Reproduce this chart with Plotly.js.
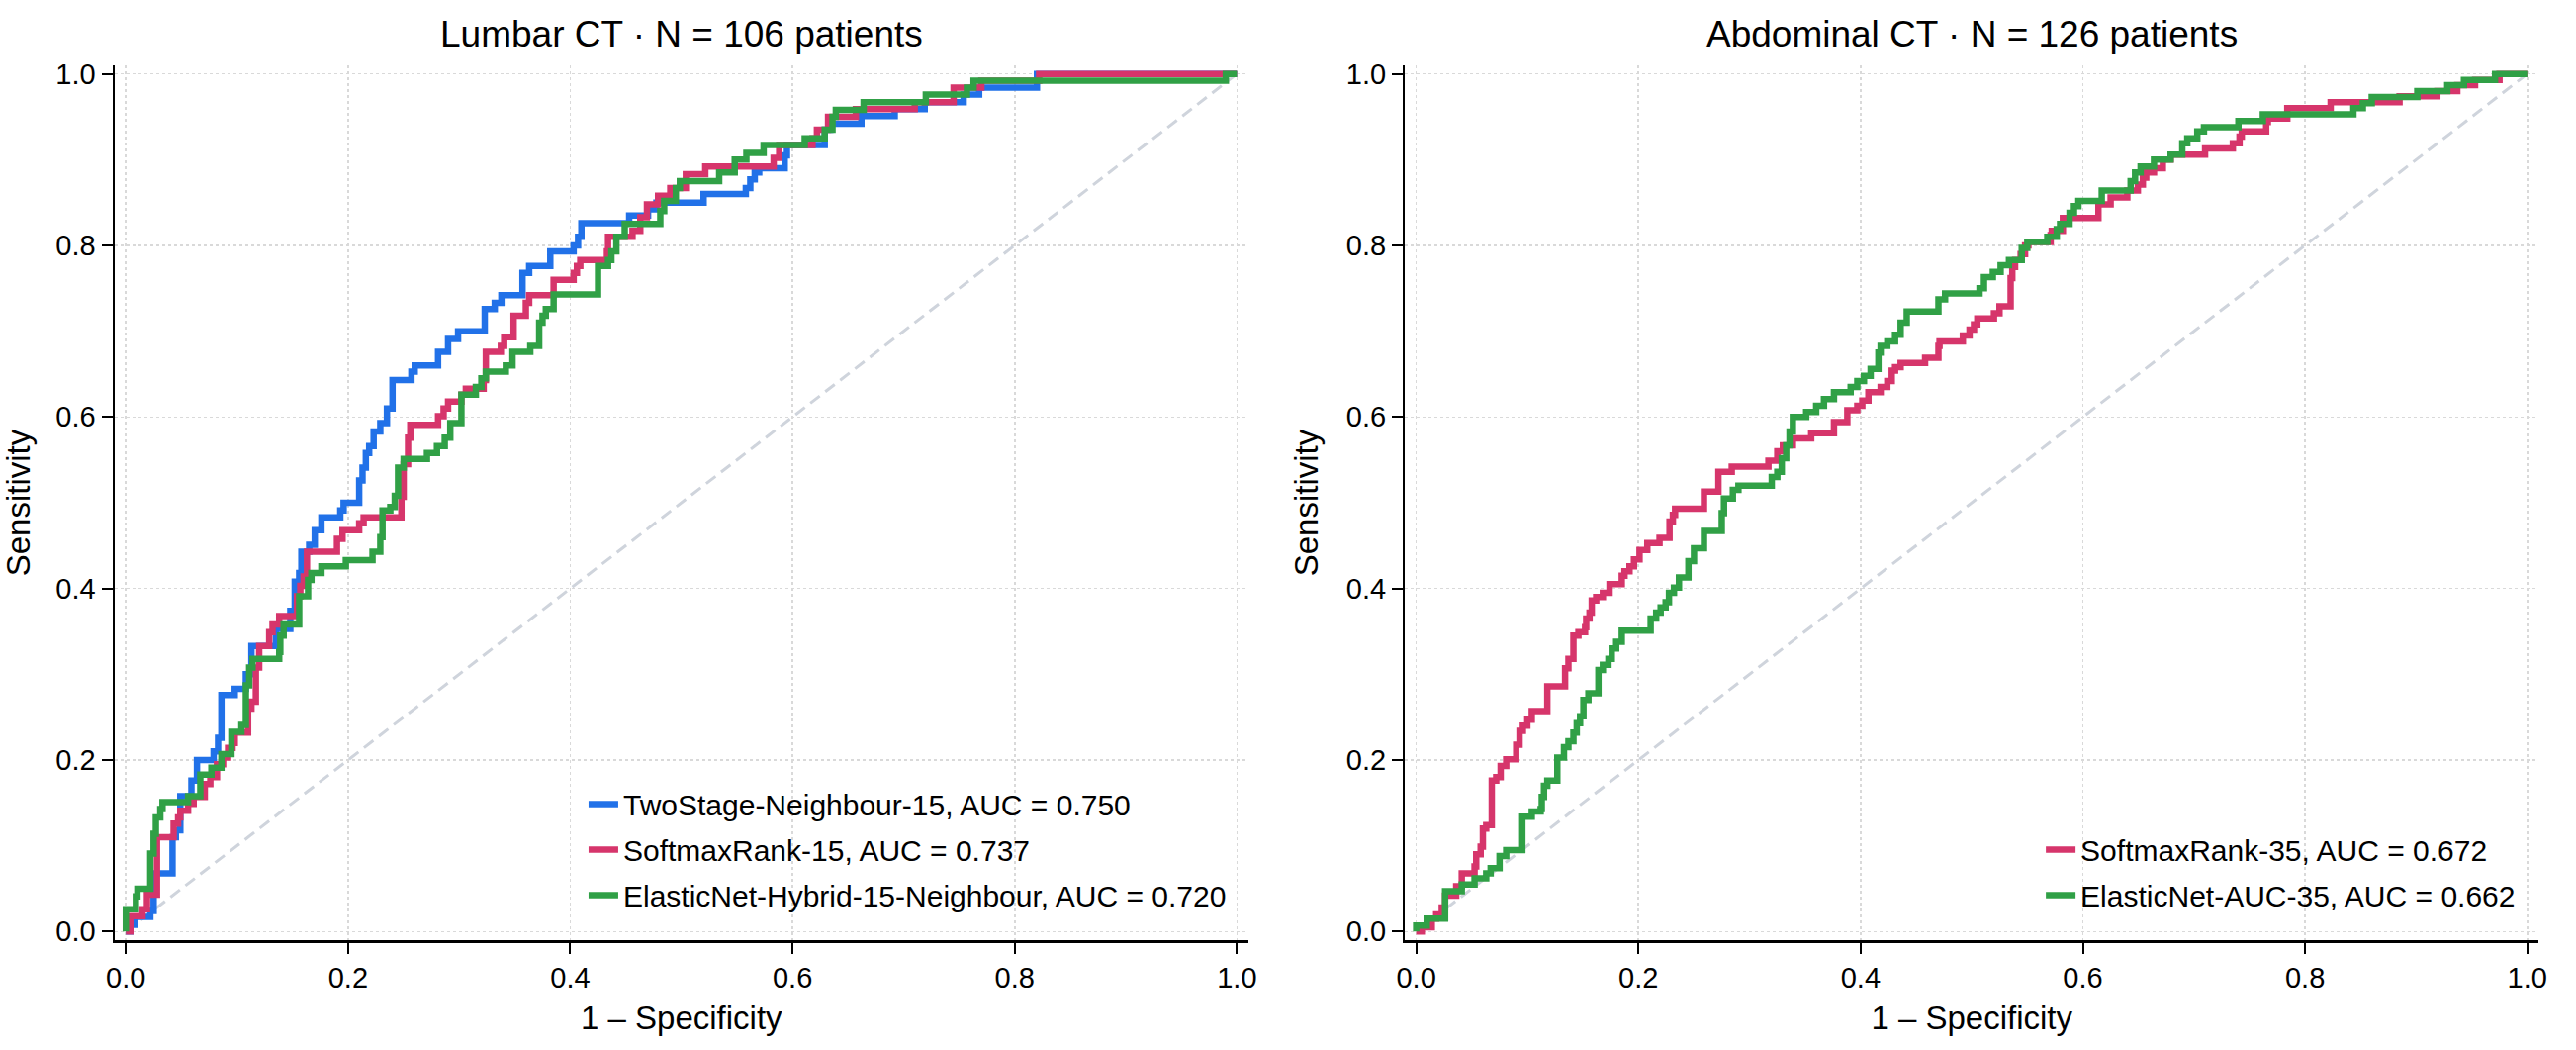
<!DOCTYPE html>
<html>
<head>
<meta charset="utf-8">
<script src="https://cdn.plot.ly/plotly-3.0.1.min.js"></script>
<style>
  html, body { margin: 0; padding: 0; background: #fff; }
  #chart { width: 2604px; height: 1061px; }
</style>
</head>
<body>
<div id="chart"></div>
<script>
// ROC curves: fpr at each vertical jump, tpr after the jump
const lumbarTwoStageFpr = [0, 0.004, 0.008, 0.022, 0.025, 0.042, 0.045, 0.049, 0.059, 0.064, 0.079, 0.083, 0.086, 0.098, 0.108, 0.113, 0.135, 0.148, 0.152, 0.156, 0.158, 0.165, 0.170, 0.176, 0.193, 0.196, 0.210, 0.213, 0.216, 0.219, 0.223, 0.229, 0.235, 0.240, 0.257, 0.260, 0.281, 0.290, 0.299, 0.323, 0.332, 0.338, 0.357, 0.363, 0.382, 0.403, 0.407, 0.410, 0.453, 0.470, 0.4775, 0.520, 0.558, 0.562, 0.566, 0.570, 0.593, 0.595, 0.629, 0.634, 0.662, 0.692, 0.719, 0.754, 0.768, 0.820, 1.0];
const lumbarTwoStageTpr = [0, 0.008, 0.017, 0.024, 0.068, 0.110, 0.118, 0.158, 0.176, 0.200, 0.210, 0.226, 0.276, 0.283, 0.300, 0.333, 0.353, 0.374, 0.408, 0.418, 0.443, 0.451, 0.468, 0.483, 0.491, 0.500, 0.526, 0.541, 0.558, 0.566, 0.583, 0.593, 0.610, 0.643, 0.653, 0.660, 0.676, 0.691, 0.700, 0.726, 0.733, 0.742, 0.768, 0.776, 0.793, 0.800, 0.810, 0.826, 0.835, 0.842, 0.850, 0.860, 0.867, 0.877, 0.885, 0.890, 0.905, 0.917, 0.935, 0.942, 0.951, 0.959, 0.967, 0.976, 0.984, 1.0, 1.0];

const lumbarSoftmaxFpr = [0, 0.004, 0.015, 0.019, 0.028, 0.043, 0.047, 0.049, 0.056, 0.061, 0.071, 0.076, 0.082, 0.0875, 0.092, 0.096, 0.098, 0.110, 0.113, 0.117, 0.120, 0.129, 0.132, 0.138, 0.154, 0.157, 0.160, 0.163, 0.190, 0.195, 0.210, 0.214, 0.248, 0.250, 0.254, 0.256, 0.281, 0.286, 0.290, 0.302, 0.306, 0.322, 0.324, 0.3375, 0.3405, 0.349, 0.360, 0.363, 0.385, 0.403, 0.406, 0.409, 0.433, 0.434, 0.456, 0.463, 0.469, 0.479, 0.490, 0.504, 0.5215, 0.583, 0.588, 0.618, 0.622, 0.632, 0.657, 0.710, 0.745, 0.770, 0.822, 1.0];
const lumbarSoftmaxTpr = [0, 0.018, 0.026, 0.043, 0.110, 0.126, 0.133, 0.141, 0.149, 0.157, 0.172, 0.180, 0.195, 0.203, 0.214, 0.220, 0.232, 0.260, 0.268, 0.308, 0.333, 0.349, 0.358, 0.368, 0.391, 0.403, 0.414, 0.443, 0.458, 0.468, 0.476, 0.483, 0.507, 0.545, 0.576, 0.591, 0.601, 0.610, 0.618, 0.626, 0.633, 0.643, 0.676, 0.683, 0.693, 0.718, 0.733, 0.742, 0.760, 0.768, 0.776, 0.783, 0.793, 0.810, 0.817, 0.833, 0.848, 0.858, 0.867, 0.883, 0.892, 0.902, 0.917, 0.925, 0.935, 0.950, 0.959, 0.967, 0.984, 0.992, 1.0, 1.0];

const lumbarElasticFpr = [0, 0, 0.009, 0.0104, 0.022, 0.025, 0.027, 0.031, 0.033, 0.056, 0.067, 0.077, 0.086, 0.095, 0.104, 0.108, 0.111, 0.114, 0.138, 0.139, 0.142, 0.156, 0.164, 0.167, 0.176, 0.198, 0.222, 0.229, 0.231, 0.238, 0.242, 0.245, 0.250, 0.271, 0.280, 0.287, 0.292, 0.302, 0.315, 0.320, 0.324, 0.342, 0.348, 0.364, 0.372, 0.375, 0.378, 0.385, 0.425, 0.434, 0.437, 0.4415, 0.449, 0.481, 0.4845, 0.495, 0.4986, 0.534, 0.548, 0.5585, 0.574, 0.611, 0.629, 0.636, 0.639, 0.664, 0.720, 0.757, 0.763, 0.990, 1.0];
const lumbarElasticTpr = [0, 0.026, 0.041, 0.050, 0.091, 0.114, 0.133, 0.143, 0.151, 0.158, 0.183, 0.191, 0.207, 0.233, 0.241, 0.287, 0.308, 0.318, 0.326, 0.345, 0.358, 0.391, 0.410, 0.418, 0.426, 0.433, 0.443, 0.460, 0.491, 0.495, 0.508, 0.541, 0.551, 0.558, 0.566, 0.576, 0.593, 0.626, 0.635, 0.645, 0.653, 0.660, 0.676, 0.683, 0.710, 0.718, 0.726, 0.743, 0.776, 0.783, 0.793, 0.810, 0.825, 0.840, 0.852, 0.867, 0.875, 0.885, 0.900, 0.908, 0.917, 0.925, 0.935, 0.950, 0.958, 0.967, 0.976, 0.984, 0.992, 1.0, 1.0];

const abdSoftmaxFpr = [0, 0.005, 0.014, 0.018, 0.023, 0.026, 0.036, 0.041, 0.0525, 0.054, 0.058, 0.060, 0.063, 0.068, 0.072, 0.076, 0.081, 0.090, 0.093, 0.096, 0.100, 0.104, 0.118, 0.134, 0.137, 0.1415, 0.146, 0.152, 0.153, 0.156, 0.158, 0.162, 0.168, 0.174, 0.185, 0.1875, 0.192, 0.196, 0.201, 0.208, 0.219, 0.228, 0.231, 0.233, 0.259, 0.272, 0.284, 0.317, 0.325, 0.330, 0.339, 0.3555, 0.376, 0.388, 0.397, 0.4015, 0.407, 0.418, 0.424, 0.428, 0.431, 0.436, 0.458, 0.470, 0.471, 0.492, 0.498, 0.502, 0.505, 0.520, 0.525, 0.535, 0.5365, 0.539, 0.544, 0.548, 0.551, 0.571, 0.572, 0.582, 0.614, 0.625, 0.640, 0.6495, 0.654, 0.657, 0.664, 0.672, 0.679, 0.710, 0.735, 0.741, 0.743, 0.765, 0.7665, 0.784, 0.823, 0.885, 0.919, 0.937, 0.953, 0.975, 1.0];
const abdSoftmaxTpr = [0, 0.005, 0.015, 0.020, 0.028, 0.042, 0.053, 0.068, 0.076, 0.090, 0.099, 0.120, 0.124, 0.176, 0.180, 0.193, 0.201, 0.218, 0.234, 0.240, 0.247, 0.257, 0.286, 0.307, 0.318, 0.345, 0.349, 0.355, 0.365, 0.372, 0.386, 0.390, 0.395, 0.405, 0.415, 0.420, 0.426, 0.434, 0.445, 0.453, 0.459, 0.478, 0.486, 0.493, 0.513, 0.536, 0.542, 0.549, 0.560, 0.567, 0.575, 0.581, 0.594, 0.608, 0.613, 0.619, 0.629, 0.635, 0.642, 0.654, 0.658, 0.663, 0.669, 0.683, 0.688, 0.695, 0.702, 0.708, 0.715, 0.721, 0.729, 0.762, 0.775, 0.783, 0.790, 0.800, 0.804, 0.812, 0.817, 0.832, 0.848, 0.856, 0.864, 0.871, 0.879, 0.885, 0.890, 0.900, 0.906, 0.913, 0.919, 0.927, 0.933, 0.944, 0.948, 0.960, 0.967, 0.974, 0.980, 0.987, 0.993, 1.0, 1.0];

const abdElasticFpr = [0, 0, 0.0095, 0.026, 0.041, 0.0525, 0.063, 0.067, 0.075, 0.081, 0.0955, 0.104, 0.112, 0.113, 0.115, 0.118, 0.127, 0.133, 0.137, 0.1415, 0.1445, 0.1475, 0.1505, 0.155, 0.164, 0.168, 0.173, 0.176, 0.180, 0.185, 0.211, 0.216, 0.220, 0.2245, 0.2275, 0.232, 0.2365, 0.245, 0.250, 0.259, 0.275, 0.277, 0.285, 0.290, 0.320, 0.325, 0.329, 0.333, 0.336, 0.339, 0.351, 0.360, 0.367, 0.376, 0.391, 0.397, 0.403, 0.409, 0.416, 0.418, 0.424, 0.431, 0.436, 0.4415, 0.470, 0.476, 0.507, 0.511, 0.519, 0.526, 0.5335, 0.545, 0.550, 0.568, 0.5765, 0.5795, 0.588, 0.592, 0.596, 0.617, 0.643, 0.647, 0.652, 0.664, 0.679, 0.6895, 0.694, 0.703, 0.709, 0.740, 0.762, 0.8435, 0.852, 0.860, 0.901, 0.928, 0.943, 0.971, 1.0];
const abdElasticTpr = [0, 0.007, 0.015, 0.047, 0.055, 0.062, 0.068, 0.074, 0.088, 0.095, 0.134, 0.140, 0.143, 0.157, 0.170, 0.176, 0.203, 0.215, 0.222, 0.232, 0.243, 0.251, 0.270, 0.278, 0.305, 0.311, 0.318, 0.330, 0.338, 0.351, 0.365, 0.372, 0.378, 0.384, 0.395, 0.401, 0.413, 0.432, 0.447, 0.467, 0.488, 0.505, 0.515, 0.520, 0.530, 0.536, 0.552, 0.567, 0.583, 0.600, 0.606, 0.613, 0.621, 0.629, 0.635, 0.642, 0.648, 0.656, 0.675, 0.683, 0.688, 0.696, 0.710, 0.723, 0.737, 0.744, 0.750, 0.763, 0.769, 0.777, 0.783, 0.797, 0.804, 0.810, 0.819, 0.825, 0.838, 0.846, 0.852, 0.864, 0.875, 0.885, 0.892, 0.900, 0.906, 0.919, 0.925, 0.933, 0.938, 0.945, 0.953, 0.960, 0.966, 0.973, 0.980, 0.987, 0.993, 1.0, 1.0];

const chanceLine = [0, 1];
const tickVals = [0, 0.2, 0.4, 0.6, 0.8, 1.0];
const tickText = ['0.0', '0.2', '0.4', '0.6', '0.8', '1.0'];

const BLUE = '#2171e8', PINK = '#d6356b', GREEN = '#30a046';

function rocTrace(x, y, name, color, xa, ya, legend) {
  return {
    x, y, name, type: 'scatter', mode: 'lines',
    line: {color, width: 6.5, shape: 'hv'},
    xaxis: xa, yaxis: ya, legend, legendgroup: name
  };
}

function diag(xa, ya) {
  return {
    x: chanceLine, y: chanceLine, type: 'scatter', mode: 'lines',
    line: {color: '#cfd4dc', width: 3, dash: '12px,7px'},
    xaxis: xa, yaxis: ya, showlegend: false, hoverinfo: 'skip'
  };
}

const traces = [
  diag('x', 'y'),
  rocTrace(lumbarTwoStageFpr, lumbarTwoStageTpr, 'TwoStage-Neighbour-15, AUC = 0.750', BLUE, 'x', 'y', 'legend'),
  rocTrace(lumbarSoftmaxFpr, lumbarSoftmaxTpr, 'SoftmaxRank-15, AUC = 0.737', PINK, 'x', 'y', 'legend'),
  rocTrace(lumbarElasticFpr, lumbarElasticTpr, 'ElasticNet-Hybrid-15-Neighbour, AUC = 0.720', GREEN, 'x', 'y', 'legend'),
  diag('x2', 'y2'),
  rocTrace(abdSoftmaxFpr, abdSoftmaxTpr, 'SoftmaxRank-35, AUC = 0.672', PINK, 'x2', 'y2', 'legend2'),
  rocTrace(abdElasticFpr, abdElasticTpr, 'ElasticNet-AUC-35, AUC = 0.662', GREEN, 'x2', 'y2', 'legend2')
];

const axisBase = {
  range: [-0.01, 1.01], tickvals: tickVals, ticktext: tickText,
  showline: true, linecolor: '#000', linewidth: 2.5, mirror: false,
  ticks: 'outside', ticklen: 11, tickwidth: 2, tickcolor: '#000',
  showgrid: true, gridcolor: '#d9d9d9', gridwidth: 1.5, griddash: 'dot',
  zeroline: false, automargin: false,
  tickfont: {size: 29, color: '#000'}
};

const xTitle = {text: '1 – Specificity', font: {size: 33, color: '#000'}, standoff: 14};
const yTitle = {text: 'Sensitivity', font: {size: 33, color: '#000'}, standoff: 18};

const legendBase = {
  xanchor: 'right', yanchor: 'bottom', y: 0.022,
  bgcolor: 'rgba(255,255,255,0)', borderwidth: 0,
  font: {size: 30, color: '#000'}, tracegroupgap: 4, traceorder: 'grouped'
};

const layout = {
  width: 2604, height: 1061,
  paper_bgcolor: '#fff', plot_bgcolor: '#fff',
  font: {family: 'Liberation Sans, Arial, Helvetica, sans-serif', color: '#000'},
  margin: {l: 116, r: 38, t: 66, b: 111},
  xaxis: Object.assign({}, axisBase, {domain: [0, 0.4676], anchor: 'y', title: xTitle}),
  yaxis: Object.assign({}, axisBase, {domain: [0, 1], anchor: 'x', title: yTitle}),
  xaxis2: Object.assign({}, axisBase, {domain: [0.5324, 1], anchor: 'y2', title: xTitle}),
  yaxis2: Object.assign({}, axisBase, {domain: [0, 1], anchor: 'x2', title: yTitle}),
  legend: Object.assign({}, legendBase, {x: 0.4608}),
  legend2: Object.assign({}, legendBase, {x: 0.9927}),
  annotations: [
    {text: 'Lumbar CT · N = 106 patients', xref: 'x domain', yref: 'paper', x: 0.5, y: 1,
     yanchor: 'middle', yshift: 32, showarrow: false, font: {size: 37, color: '#000'}},
    {text: 'Abdominal CT · N = 126 patients', xref: 'x2 domain', yref: 'paper', x: 0.5, y: 1,
     yanchor: 'middle', yshift: 32, showarrow: false, font: {size: 37, color: '#000'}}
  ],
  showlegend: true
};

Plotly.newPlot('chart', traces, layout, {staticPlot: true, displayModeBar: false});
</script>
</body>
</html>
